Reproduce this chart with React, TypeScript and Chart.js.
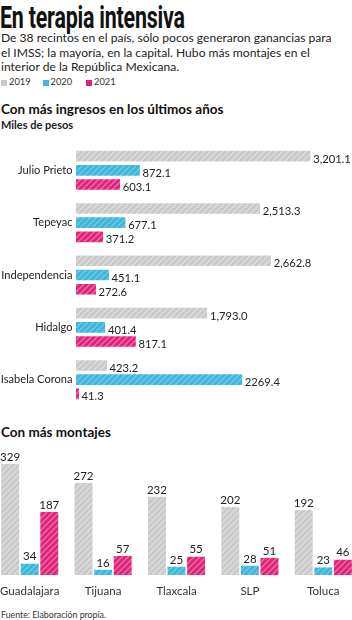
import React, { useEffect, useRef } from "react";
import { Chart, registerables } from "chart.js";
Chart.register(...registerables);

const years = ["2019", "2020", "2021"];
const hospitals = ["Julio Prieto", "Tepeyac", "Independencia", "Hidalgo", "Isabela Corona"];
const ingresos2019 = [3201.1, 2513.3, 2662.8, 1793.0, 423.2];
const ingresos2020 = [872.1, 677.1, 451.1, 401.4, 2269.4];
const ingresos2021 = [603.1, 371.2, 272.6, 817.1, 41.3];
const ingresosText2019 = ["3,201.1", "2,513.3", "2,662.8", "1,793.0", "423.2"];
const ingresosText2020 = ["872.1", "677.1", "451.1", "401.4", "2269.4"];
const ingresosText2021 = ["603.1", "371.2", "272.6", "817.1", "41.3"];
const cities = ["Guadalajara", "Tijuana", "Tlaxcala", "SLP", "Toluca"];
const montajes2019 = [329, 272, 232, 202, 192];
const montajes2020 = [34, 16, 25, 28, 23];
const montajes2021 = [187, 57, 55, 51, 46];

const GRAY = "#c9c9c9";
const BLUE = "#3cb6da";
const PINK = "#e2237b";

if (typeof document !== "undefined") document.body.style.margin = "0";

function stripe(base: string, line: string): CanvasPattern | string {
  const s = 6;
  const c = document.createElement("canvas");
  c.width = s;
  c.height = s;
  const x = c.getContext("2d");
  if (!x) return base;
  x.fillStyle = base;
  x.fillRect(0, 0, s, s);
  x.strokeStyle = line;
  x.lineWidth = 1.3;
  x.beginPath();
  x.moveTo(-1, s + 1);
  x.lineTo(s + 1, -1);
  x.moveTo(-1, 1);
  x.lineTo(1, -1);
  x.moveTo(s - 1, s + 1);
  x.lineTo(s + 1, s - 1);
  x.stroke();
  return x.createPattern(c, "repeat") || base;
}

const FONT = "Lato";
const TITLE_WIDTH = 185;

export default function App() {
  const hRef = useRef<HTMLCanvasElement>(null);
  const vRef = useRef<HTMLCanvasElement>(null);
  const tRef = useRef<HTMLSpanElement>(null);

  useEffect(() => {
    const t = tRef.current;
    if (t) {
      const w = t.offsetWidth;
      if (w > 0) t.style.transform = `scaleX(${TITLE_WIDTH / w})`;
    }

    const pGray = stripe(GRAY, "#dedede");
    const pBlue = stripe(BLUE, "#72cbe6");
    const pPink = stripe(PINK, "#ee6ea6");
    const fills = [pGray, pBlue, pPink];
    const series = [ingresos2019, ingresos2020, ingresos2021];
    const texts = [ingresosText2019, ingresosText2020, ingresosText2021];

    const hLabels = {
      id: "hLabels",
      afterDatasetsDraw(chart: any) {
        const ctx = chart.ctx;
        ctx.save();
        ctx.font = `11.2px ${FONT}`;
        ctx.fillStyle = "#222";
        ctx.textAlign = "left";
        ctx.textBaseline = "alphabetic";
        chart.data.datasets.forEach((ds: any, di: number) => {
          const meta = chart.getDatasetMeta(di);
          meta.data.forEach((el: any, i: number) => {
            ctx.fillText(texts[di][i], el.x + 2.5, el.y + 6.5);
          });
        });
        ctx.restore();
      },
    };

    const h = new Chart(hRef.current!, {
      type: "bar",
      data: {
        labels: hospitals,
        datasets: series.map((d, i) => ({
          label: years[i],
          data: d,
          backgroundColor: fills[i] as any,
          borderColor: "#ffffff",
          borderWidth: { top: 1.8, bottom: 1.8, left: 0, right: 0 },
          borderSkipped: false,
          categoryPercentage: 0.815,
          barPercentage: 1,
        })),
      },
      options: {
        indexAxis: "y",
        animation: false,
        responsive: false,
        maintainAspectRatio: false,
        layout: { padding: 0 },
        plugins: { legend: { display: false }, tooltip: { enabled: false } },
        scales: {
          x: { display: false, min: 0, max: 3765 },
          y: {
            grid: { display: false, drawTicks: false },
            border: { display: false },
            ticks: { font: { family: FONT, size: 11.1 }, color: "#222", padding: 3.5 },
            afterFit: (s: any) => {
              s.width = 76;
            },
          },
        },
      },
      plugins: [hLabels],
    });

    const mSeries = [montajes2019, montajes2020, montajes2021];
    const vLabels = {
      id: "vLabels",
      afterDatasetsDraw(chart: any) {
        const ctx = chart.ctx;
        ctx.save();
        ctx.font = `11.5px ${FONT}`;
        ctx.fillStyle = "#222";
        ctx.textAlign = "center";
        ctx.textBaseline = "alphabetic";
        chart.data.datasets.forEach((ds: any, di: number) => {
          const meta = chart.getDatasetMeta(di);
          meta.data.forEach((el: any, i: number) => {
            ctx.fillText(String(mSeries[di][i]), el.x, el.y - 3);
          });
        });
        ctx.restore();
      },
    };

    const v = new Chart(vRef.current!, {
      type: "bar",
      data: {
        labels: cities,
        datasets: mSeries.map((d, i) => ({
          label: years[i],
          data: d,
          backgroundColor: fills[i] as any,
          borderColor: "#ffffff",
          borderWidth: { top: 0, bottom: 0, left: 0.8, right: 0.8 },
          borderSkipped: false,
          categoryPercentage: 0.8,
          barPercentage: 1,
        })),
      },
      options: {
        animation: false,
        responsive: false,
        maintainAspectRatio: false,
        layout: { padding: 0 },
        plugins: { legend: { display: false }, tooltip: { enabled: false } },
        scales: {
          y: { display: false, min: 0, max: 399 },
          x: {
            grid: { display: false },
            border: { display: false },
            ticks: { font: { family: FONT, size: 11.5 }, color: "#333", padding: 1 },
            afterFit: (s: any) => {
              s.height = 25;
            },
          },
        },
      },
      plugins: [vLabels],
    });

    return () => {
      h.destroy();
      v.destroy();
    };
  }, []);

  const abs = (top: number, left: number, extra: React.CSSProperties): React.CSSProperties => ({
    position: "absolute",
    top,
    left,
    whiteSpace: "nowrap",
    margin: 0,
    ...extra,
  });

  const legendItem = (color: string, text: string, left: number) => (
    <div style={abs(76.3, left, { fontFamily: FONT, fontSize: 9.3, lineHeight: "11.2px", color: "#333" })}>
      <span
        style={{
          display: "inline-block",
          width: 6,
          height: 6,
          background: color,
          marginRight: 2,
          verticalAlign: "-0.5px",
        }}
      />
      {text}
    </div>
  );

  return (
    <div style={{ position: "relative", width: 352, height: 620, overflow: "hidden", background: "#fff" }}>
      <span
        ref={tRef}
        style={abs(2.2, 0, {
          display: "inline-block",
          fontFamily: "Roboto",
          fontWeight: 700,
          fontSize: 31,
          lineHeight: "31px",
          color: "#111",
          transform: "scaleX(0.62)",
          transformOrigin: "left top",
          letterSpacing: "-0.3px",
        })}
      >
        En terapia intensiva
      </span>
      <div
        style={abs(31, 1, {
          fontFamily: FONT,
          fontSize: 12.1,
          lineHeight: "14.7px",
          color: "#222",
        })}
      >
        De 38 recintos en el país, sólo pocos generaron ganancias para
        <br />
        el IMSS; la mayoría, en la capital. Hubo más montajes en el
        <br />
        interior de la República Mexicana.
      </div>
      {legendItem(GRAY, "2019", 1)}
      {legendItem(BLUE, "2020", 42.5)}
      {legendItem(PINK, "2021", 86)}
      <div style={abs(101.4, 1, { fontFamily: FONT, fontWeight: 700, fontSize: 13.5, lineHeight: "16px", color: "#111" })}>
        Con más ingresos en los últimos años
      </div>
      <div style={abs(118, 1, { fontFamily: FONT, fontWeight: 700, fontSize: 11, lineHeight: "13px", color: "#222" })}>
        Miles de pesos
      </div>
      <canvas ref={hRef} width={352} height={282} style={{ position: "absolute", top: 134, left: 0, width: 352, height: 282 }} />
      <div style={abs(423.7, 1, { fontFamily: FONT, fontWeight: 700, fontSize: 13.5, lineHeight: "16px", color: "#111" })}>
        Con más montajes
      </div>
      <div style={{ position: "absolute", top: 440, left: 0, width: 352, height: 165, overflow: "hidden" }}>
        <canvas ref={vRef} width={367} height={160} style={{ position: "absolute", top: 0, left: -7, width: 367, height: 160 }} />
      </div>
      <div style={abs(609.6, 1, { fontFamily: FONT, fontSize: 8.8, lineHeight: "10.5px", color: "#333" })}>
        Fuente: Elaboración propia.
      </div>
    </div>
  );
}
